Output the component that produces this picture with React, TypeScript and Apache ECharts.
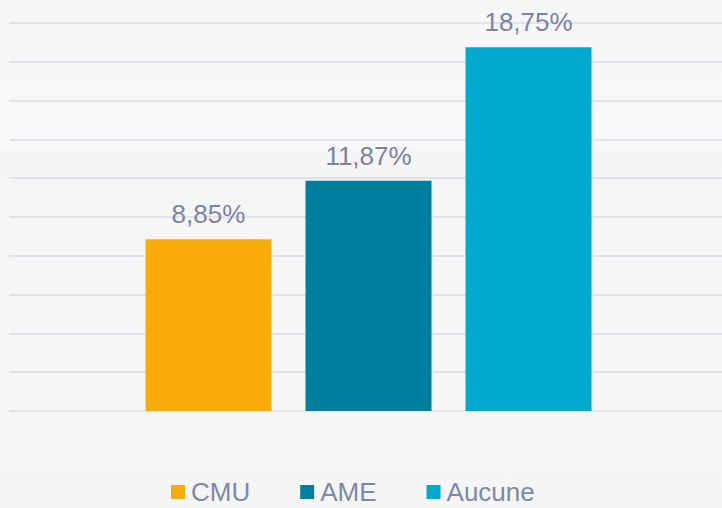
import React, { useEffect, useRef } from "react";
import * as echarts from "echarts";

const seriesNames = ["CMU", "AME", "Aucune"];
const seriesValues = [8.85, 11.87, 18.75];
const seriesColors = ["#F9AB0A", "#00809E", "#00AACF"];
const categories = [""];

export default function App() {
  const ref = useRef<HTMLDivElement>(null);
  useEffect(() => {
    if (!ref.current) return;
    const chart = echarts.init(ref.current, null, { renderer: "svg" });
    const font = "'Liberation Sans', Arial, sans-serif";
    chart.setOption({
      animation: false,
      backgroundColor: {
        type: "linear",
        x: 0, y: 0, x2: 0, y2: 1,
        colorStops: [
          { offset: 0, color: "#f6f6f7" },
          { offset: 0.29, color: "#f9f9fa" },
          { offset: 0.3, color: "#f5f5f6" },
          { offset: 0.6, color: "#f7f7f8" },
          { offset: 1, color: "#f5f5f5" },
        ],
      },
      grid: { left: 9, right: 0, top: 23, bottom: 97, containLabel: false },
      legend: {
        left: 171,
        bottom: 3,
        padding: 0,
        itemWidth: 14,
        itemHeight: 14,
        itemGap: 50,
        icon: "rect",
        textStyle: {
          color: "#8087a8",
          fontSize: 26,
          lineHeight: 22,
          fontFamily: font,
          padding: [0, 0, 0, 1],
        },
        data: seriesNames,
      },
      xAxis: {
        type: "category",
        data: categories,
        axisLine: { show: false },
        axisTick: { show: false },
        axisLabel: { show: false },
      },
      yAxis: {
        type: "value",
        min: 0,
        max: 20,
        interval: 2,
        axisLabel: { show: false },
        axisLine: { show: false },
        axisTick: { show: false },
        splitLine: { lineStyle: { color: "#e2e2ea", width: 2 } },
      },
      series: seriesNames.map((name, i) => ({
        name,
        type: "bar",
        data: [seriesValues[i]],
        barWidth: 126,
        barGap: "27%",
        itemStyle: { color: seriesColors[i] },
        label: {
          show: true,
          position: "top",
          distance: 12,
          color: "#7c82a3",
          fontSize: 26,
          fontFamily: font,
          formatter: (p: any) => p.value.toFixed(2).replace(".", ",") + "%",
        },
      })),
    });
    return () => chart.dispose();
  }, []);
  return (
    <div style={{ position: "fixed", left: 0, top: 0, width: 722, height: 508, overflow: "hidden" }}>
      <div ref={ref} style={{ width: 728, height: 508 }} />
    </div>
  );
}
